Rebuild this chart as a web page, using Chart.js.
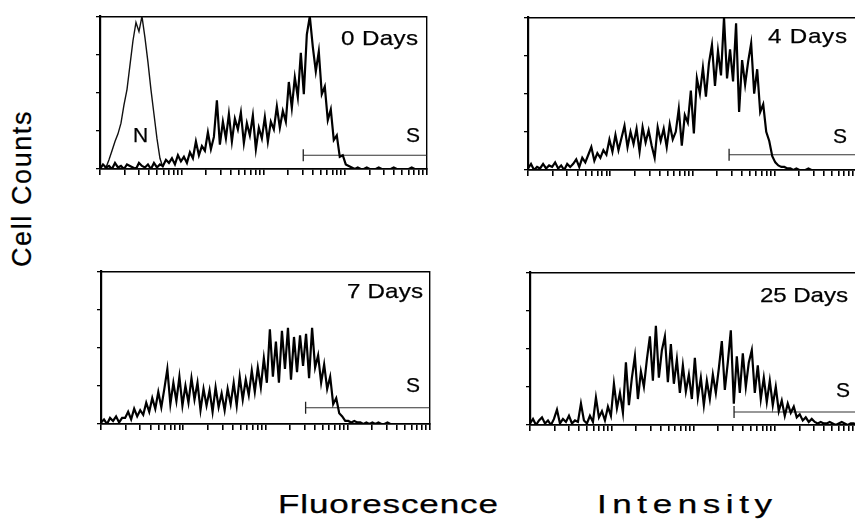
<!DOCTYPE html>
<html>
<head>
<meta charset="utf-8">
<script src="https://cdn.jsdelivr.net/npm/chart.js@4.4.1/dist/chart.umd.min.js"></script>
<style>
  body { margin: 0; background: #fff; width: 855px; height: 523px; overflow: hidden; position: relative;
         font-family: "Liberation Sans", Arial, Helvetica, sans-serif; }
  canvas { position: absolute; }
  .lbl { position: absolute; color: #000; white-space: nowrap; line-height: 1; transform-origin: 0 0;
         -webkit-text-stroke: 0.25px #000; }
</style>
</head>
<body>
<canvas id="p0"></canvas>
<canvas id="p4"></canvas>
<canvas id="p7"></canvas>
<canvas id="p25"></canvas>

<div class="lbl" id="t0" style="font-size:21px">0 Days</div>
<div class="lbl" id="t4" style="font-size:21px">4 Days</div>
<div class="lbl" id="t7" style="font-size:21px">7 Days</div>
<div class="lbl" id="t25" style="font-size:21px">25 Days</div>
<div class="lbl" id="s0" style="font-size:21px">S</div>
<div class="lbl" id="s4" style="font-size:21px">S</div>
<div class="lbl" id="s7" style="font-size:21px">S</div>
<div class="lbl" id="s25" style="font-size:21px">S</div>
<div class="lbl" id="n0" style="font-size:21px">N</div>
<div class="lbl" id="ylab" style="font-size:27px">Cell Counts</div>
<div class="lbl" id="xlab1" style="font-size:25px">Fluorescence</div>
<div class="lbl" id="xlab2" style="font-size:25px">Intensity</div>

<script>
// counts per channel, 0..100 = bottom..top of each box (110 channels over 4 decades)
const day0Counts = [0,3,1,2,0,4,1,2,0,3,2,1,0,4,2,1,3,0,4,1,3,
  2,6,4,7,3,9,5,8,4,11, 7,18,9,15,12, 24,13,21,45,16,
  31,20,36,18,33,26,37,17,30,22,35,13, 27,20,34,18,31,26,
  41,27,38,31, 57,40,60,47, 76,49,88,100,
  80,64,77,49,54,32,39,19,22,8,9,3,2,1,
  0,1,0,0,1,0,0,0,1,0,0,0,0,1,0,0,0,0,0,1,0,0,0,0,0];
// unstained control (N), first channels only
const day0Negative = [0,0,1,6,12,18,23,30,42,52,68,84,96,90,100,86,70,52,36,20,7,1];

const day4Counts = [1,4,0,2,1,4,1,3,2,5,1,3,0,4,2,
  4,7,2,8,5,10, 15,6,11,8,13, 10,20,12,23,13,21,
  29,15,25,17,27,12,28,18,26,16, 8,28,19,27,15,30,20,25,
  40,16,36,31, 52,24,60,50,67,48,70,82, 55,78,62,100,60,
  79,58,96,38,72,56, 71,83,50,66,
  38,43,25,19,9,5,3,2,2,1,1,
  0,1,0,0,0,1,0,0,0,0,0,0,0,0,0,0,0,0,0,0,0,0];

const day7Counts = [1,3,0,4,2,5,1,4, 4,8,3,10,5,9, 6,14,8,17,10, 21,11,23,36,
  13,27,15,31,12,25,14,30,16,27, 9,23,12,22,8,24,11,20,9,23,13,
  27,12,31,16,29,19,35,21, 37,24,43,27,
  62,31,54,27,61,36,63,29,57,34,58,38, 59,30,63,37,
  45,27,39,23,31,13,17,7,5,2,2,
  1,2,1,1,0,1,0,1,0,1,0,0,1,
  0,0,0,0,0,0,0,0,0,0,0,0,0,0];

const day25Counts = [1,4,0,3,5,1,3,0,4,10,1,4,2,6,1,3,2,14,3,1,6,2,
  18,5,9,3,12,6, 27,11,21,8, 41,13,31,45,17,35, 25,43,58,29,65,31,
  49,58,28,53, 27,43,21,39,22, 33,17,44,18,31,13,29,17,33,
  21,37,55,23, 41,62,14,45,21,47,25, 41,49,21,39,
  17,31,15,29,13,25, 9,16,6,14,8,12,5, 7,3,5,2,4,
  2,1,2,1,1,2,1,0,1,2,1,0,1,1,0];

// S gate: start intensity and height
const gateStart = [308, 280, 309, 315];
const gateLevel = [9, 10, 10.6, 8.5];

const logTicks = [1,2,3,4,5,6,7,8,9,10,20,30,40,50,60,70,80,90,
  100,200,300,400,500,600,700,800,900,1000,2000,3000,4000,5000,6000,7000,8000,9000,10000];

const xAt = i => Math.pow(10, 4 * i / (day0Counts.length - 1));

function panelChart(id, box, counts, gi, negative) {
  const cv = document.getElementById(id);
  cv.width = box.w + 13;
  cv.height = box.h + 13;
  cv.style.left = (box.left - 10) + 'px';
  cv.style.top = (box.top - 3) + 'px';

  const datasets = [{
    data: counts.map((v, i) => ({ x: xAt(i), y: v })),
    borderColor: '#000', borderWidth: 2.2, pointRadius: 0, tension: 0
  }];
  if (negative) {
    datasets.push({
      data: negative.map((v, i) => ({ x: xAt(i), y: v })),
      borderColor: '#111', borderWidth: 1.4, pointRadius: 0, tension: 0
    });
  }
  datasets.push({
    data: [{ x: gateStart[gi], y: gateLevel[gi] }, { x: 10000, y: gateLevel[gi] }],
    borderColor: '#333', borderWidth: 1.1,
    pointStyle: 'line', pointRotation: 90, pointRadius: [6, 0],
    pointBorderColor: '#222', pointBorderWidth: 1.3
  });

  return new Chart(cv, {
    type: 'line',
    data: { datasets },
    options: {
      responsive: false,
      animation: false,
      devicePixelRatio: 1,
      layout: { padding: { left: 2, top: 3, right: 3, bottom: 2 } },
      plugins: { legend: { display: false }, tooltip: { enabled: false } },
      scales: {
        x: {
          type: 'logarithmic', position: 'bottom', min: 1, max: 10000,
          afterBuildTicks: s => { s.ticks = logTicks.map(v => ({ value: v })); },
          afterFit: s => { s.height = 8; },
          ticks: { display: false },
          grid: { drawOnChartArea: false, drawTicks: true, tickLength: 6, color: '#000', lineWidth: 1.6 },
          border: { display: true, color: '#000', width: 1.7 }
        },
        x2: {
          type: 'linear', position: 'top',
          afterFit: s => { s.height = 0; },
          ticks: { display: false },
          grid: { display: false },
          border: { display: true, color: '#000', width: 1.4 }
        },
        y: {
          min: 0, max: 100, position: 'left',
          ticks: { display: false, stepSize: 25 },
          afterFit: s => { s.width = 8; },
          grid: { drawOnChartArea: false, drawTicks: true, tickLength: 4, color: '#000', lineWidth: 1.3 },
          border: { display: true, color: '#000', width: 2.2 }
        },
        y2: {
          type: 'linear', position: 'right',
          afterFit: s => { s.width = 0; },
          ticks: { display: false },
          grid: { display: false },
          border: { display: true, color: '#000', width: 1.4 }
        }
      }
    }
  });
}

panelChart('p0', { left: 100, top: 12, w: 331, h: 157 }, day0Counts, 0, day0Negative);
panelChart('p4', { left: 528, top: 13, w: 333, h: 157 }, day4Counts, 1);
panelChart('p7', { left: 101, top: 267, w: 333, h: 157 }, day7Counts, 2);
panelChart('p25', { left: 530, top: 268, w: 331, h: 157 }, day25Counts, 3);

// place a label: left edge, baseline, target width (stretched like the scan)
function place(id, left, baseline, width, stretch) {
  const el = document.getElementById(id);
  const fs = parseFloat(el.style.fontSize);
  el.style.left = left + 'px';
  el.style.top = (baseline - 0.846 * fs) + 'px';
  const text = el.textContent;
  const w0 = el.getBoundingClientRect().width;
  if (text.length > 1) {
    const gap = (width / stretch - w0) / (text.length - 1);
    el.style.letterSpacing = gap.toFixed(2) + 'px';
  }
  el.style.transform = 'scaleX(' + stretch + ')';
}

place('t0', 341, 45, 77, 1.15);
place('t4', 768, 43, 79, 1.15);
place('t7', 347, 298, 76, 1.15);
place('t25', 760, 302, 88, 1.15);
place('s0', 406, 142, 14, 1.0);
place('s4', 833, 143, 14, 1.0);
place('s7', 406, 392, 14, 1.0);
place('s25', 836, 397, 14, 1.0);
place('n0', 133, 142, 15, 1.0);
place('xlab1', 278, 513, 220, 1.4);
place('xlab2', 597, 513, 175, 1.4);

// vertical axis title
const yl = document.getElementById('ylab');
yl.style.letterSpacing = '1.6px';
const yw = yl.getBoundingClientRect().width;
yl.style.left = (23 - yw / 2) + 'px';
yl.style.top = (188 - 13.5) + 'px';
yl.style.height = '27px';
yl.style.transformOrigin = '50% 50%';
yl.style.transform = 'rotate(-90deg)';
</script>
</body>
</html>
